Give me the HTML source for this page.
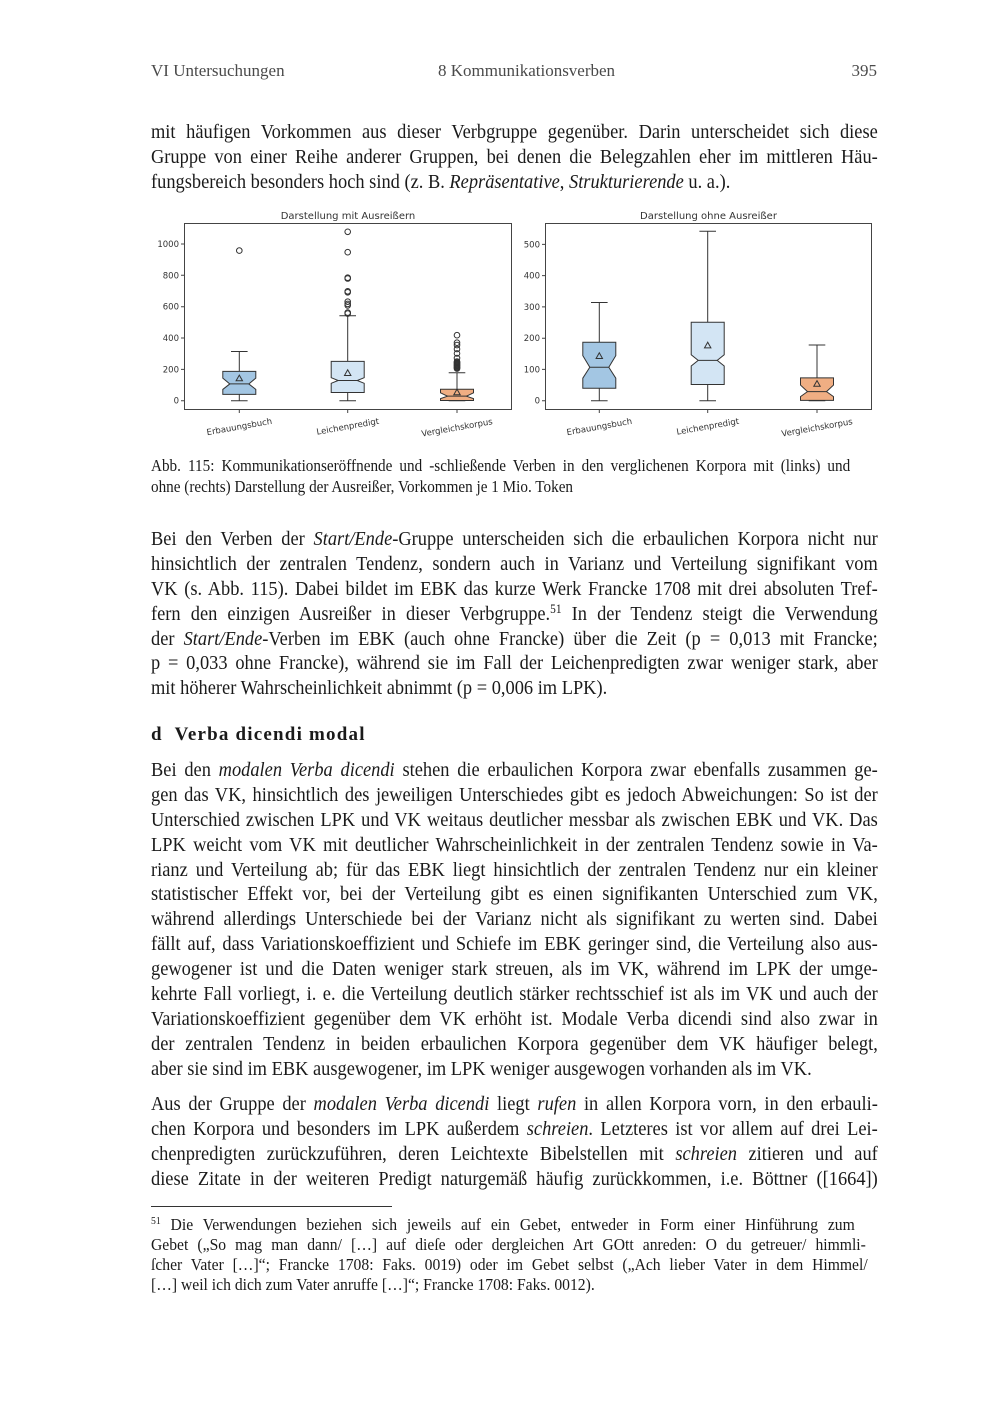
<!DOCTYPE html>
<html><head><meta charset="utf-8">
<style>
html,body{margin:0;padding:0;background:#fff;}
body{width:1000px;height:1414px;position:relative;overflow:hidden;font-family:"Liberation Serif",serif;color:#1a1a1a;}
.hd{position:absolute;top:61px;font-size:17px;line-height:20px;color:#4a4a4a;white-space:nowrap;}
.l{position:absolute;left:151px;width:790px;height:25px;font-size:20px;line-height:25px;white-space:nowrap;transform:scaleX(0.92);transform-origin:0 0;}
.j{text-align:justify;text-align-last:justify;}
.cap{position:absolute;left:151px;height:21px;font-size:16.5px;line-height:21px;white-space:nowrap;transform:scaleX(0.92);transform-origin:0 0;}
.fn{position:absolute;left:151px;height:20px;font-size:17px;line-height:20px;white-space:nowrap;transform:scaleX(0.92);transform-origin:0 0;}
sup{font-size:62%;line-height:0;vertical-align:0.55em;}
.h{position:absolute;left:151px;top:722px;font-size:19px;line-height:25px;font-weight:bold;letter-spacing:1.2px;white-space:nowrap;}
svg{position:absolute;left:0;top:0;}
svg text{font-family:"DejaVu Sans",sans-serif;fill:#333;}
</style></head><body>

<div class="hd" style="left:151px;">VI Untersuchungen</div>
<div class="hd" style="left:438px;">8 Kommunikationsverben</div>
<div class="hd" style="left:849px;width:28px;text-align:right;">395</div>

<div class="l j" style="top:120px;">mit häufigen Vorkommen aus dieser Verbgruppe gegenüber. Darin unterscheidet sich diese</div>
<div class="l j" style="top:145px;">Gruppe von einer Reihe anderer Gruppen, bei denen die Belegzahlen eher im mittleren Häu-</div>
<div class="l" style="top:170px;">fungsbereich besonders hoch sind (z. B. <i>Repräsentative</i>, <i>Strukturierende</i> u. a.).</div>

<svg width="1000" height="450" viewBox="0 0 1000 450">
<g fill="none" stroke="#444" stroke-width="1">
<rect x="184.5" y="223.5" width="327" height="186"/>
<rect x="545.5" y="223.5" width="326" height="186"/>
<path d="M181,400.7H184.5M181,369.4H184.5M181,338H184.5M181,306.7H184.5M181,275.3H184.5M181,244H184.5"/>
<path d="M542,400.7H545.5M542,369.4H545.5M542,338.2H545.5M542,306.9H545.5M542,275.6H545.5M542,244.4H545.5"/>
<path d="M239.3,409.5V413M347.7,409.5V413M457,409.5V413M599.3,409.5V413M707.7,409.5V413M817,409.5V413"/>
</g>
<g font-size="8.5" text-anchor="end">
<text x="179" y="403.7">0</text><text x="179" y="372.4">200</text><text x="179" y="341">400</text>
<text x="179" y="309.7">600</text><text x="179" y="278.3">800</text><text x="179" y="247">1000</text>
<text x="540" y="403.7">0</text><text x="540" y="372.4">100</text><text x="540" y="341.2">200</text>
<text x="540" y="309.9">300</text><text x="540" y="278.6">400</text><text x="540" y="247.4">500</text>
</g>
<g font-size="10" text-anchor="middle">
<text x="348" y="219">Darstellung mit Ausreißern</text>
<text x="708.5" y="219">Darstellung ohne Ausreißer</text>
</g>
<g font-size="8.5" text-anchor="middle">
<text transform="translate(239.3,426.5) rotate(-10)" y="3">Erbauungsbuch</text>
<text transform="translate(347.7,426.3) rotate(-10)" y="3">Leichenpredigt</text>
<text transform="translate(457,427.4) rotate(-10)" y="3">Vergleichskorpus</text>
<text transform="translate(599.3,426.5) rotate(-10)" y="3">Erbauungsbuch</text>
<text transform="translate(707.7,426.3) rotate(-10)" y="3">Leichenpredigt</text>
<text transform="translate(817,427.4) rotate(-10)" y="3">Vergleichskorpus</text>
</g>

<g stroke="#333" stroke-width="1">
<path d="M239.3,394.43V400.7M239.3,371.4V351.5M231,400.7H247.6M231,351.5H247.6" fill="none"/>
<path d="M222.8,394.43L255.8,394.43L255.8,389.42L248.8,383.93L255.8,378.14L255.8,371.4L222.8,371.4L222.8,378.14L229.8,383.93L222.8,389.42Z" fill="#a3c6e3"/>
<path d="M229.8,383.93H248.8" fill="none"/>
<path d="M239.3,375.1L236.1,380.8L242.5,380.8Z" fill="none"/>
<circle cx="239.3" cy="250.6" r="2.8" fill="none"/>

<path d="M347.7,392.55V400.7M347.7,361.37V315.77M339.4,400.7H356M339.4,315.77H356" fill="none"/>
<path d="M331.2,392.55L364.2,392.55L364.2,383.31L357.2,380.49L364.2,377.66L364.2,361.37L331.2,361.37L331.2,377.66L338.2,380.49L331.2,383.31Z" fill="#d3e5f4"/>
<path d="M338.2,380.49H357.2" fill="none"/>
<path d="M347.7,369.8L344.5,375.5L350.9,375.5Z" fill="none"/>
<g fill="none">
<circle cx="347.7" cy="231.8" r="2.8"/><circle cx="347.7" cy="252.2" r="2.8"/>
<circle cx="347.7" cy="277.7" r="2.8"/><circle cx="347.7" cy="278.5" r="2.8"/>
<circle cx="347.7" cy="291.3" r="2.8"/><circle cx="347.7" cy="292.3" r="2.8"/>
<circle cx="347.7" cy="301.7" r="2.8"/><circle cx="347.7" cy="303.9" r="2.8"/>
<circle cx="347.7" cy="305.4" r="2.8"/><circle cx="347.7" cy="312.6" r="2.8"/>
<circle cx="347.7" cy="313.6" r="2.8"/>
</g>

<path d="M457,400.54V400.7M457,389.26V372.81M448.7,400.7H465.3M448.7,372.81H465.3" fill="none"/>
<path d="M440.5,400.54L473.5,400.54L473.5,398.66L466.5,396.16L473.5,392.87L473.5,389.26L440.5,389.26L440.5,392.87L447.5,396.16L440.5,398.66Z" fill="#f0ae83"/>
<path d="M447.5,396.16H466.5" fill="none"/>
<path d="M457,389.1L453.8,394.8L460.2,394.8Z" fill="none"/>
<g fill="none">
<circle cx="457" cy="335.2" r="2.8"/><circle cx="457" cy="342.7" r="2.8"/>
<circle cx="457" cy="345.1" r="2.8"/><circle cx="457" cy="349" r="2.8"/>
<circle cx="457" cy="353.4" r="2.8"/><circle cx="457" cy="358.1" r="2.8"/>
<circle cx="457" cy="361.5" r="2.8"/><circle cx="457" cy="362.3" r="2.8"/>
<circle cx="457" cy="363.1" r="2.8"/><circle cx="457" cy="363.9" r="2.8"/>
<circle cx="457" cy="364.7" r="2.8"/><circle cx="457" cy="365.4" r="2.8"/>
<circle cx="457" cy="366.2" r="2.8"/><circle cx="457" cy="367" r="2.8"/>
<circle cx="457" cy="367.8" r="2.8"/><circle cx="457" cy="368.6" r="2.8"/>
</g>

<path d="M599.3,388.19V400.7M599.3,342.22V302.51M591,400.7H607.6M591,302.51H607.6" fill="none"/>
<path d="M582.8,388.19L615.8,388.19L615.8,378.19L608.8,367.24L615.8,355.67L615.8,342.22L582.8,342.22L582.8,355.67L589.8,367.24L582.8,378.19Z" fill="#a3c6e3"/>
<path d="M589.8,367.24H608.8" fill="none"/>
<path d="M599.3,352.8L596.1,358.5L602.5,358.5Z" fill="none"/>

<path d="M707.7,384.44V400.7M707.7,322.21V231.21M699.4,400.7H716M699.4,231.21H716" fill="none"/>
<path d="M691.2,384.44L724.2,384.44L724.2,366L717.2,360.36L724.2,354.73L724.2,322.21L691.2,322.21L691.2,354.73L698.2,360.36L691.2,366Z" fill="#d3e5f4"/>
<path d="M698.2,360.36H717.2" fill="none"/>
<path d="M707.7,342.2L704.5,347.9L710.9,347.9Z" fill="none"/>

<path d="M817,400.39V400.7M817,377.87V345.04M808.7,400.7H825.3M808.7,345.04H825.3" fill="none"/>
<path d="M800.5,400.39L833.5,400.39L833.5,396.63L826.5,391.63L833.5,385.07L833.5,377.87L800.5,377.87L800.5,385.07L807.5,391.63L800.5,396.63Z" fill="#f0ae83"/>
<path d="M807.5,391.63H826.5" fill="none"/>
<path d="M817,380.6L813.8,386.3L820.2,386.3Z" fill="none"/>
</g>
</svg>

<div class="cap j" style="top:455px;width:760px;">Abb. 115: Kommunikationseröffnende und -schließende Verben in den verglichenen Korpora mit (links) und</div>
<div class="cap" style="top:476px;">ohne (rechts) Darstellung der Ausreißer, Vorkommen je 1 Mio. Token</div>

<div class="l j" style="top:527px;">Bei den Verben der <i>Start/Ende</i>-Gruppe unterscheiden sich die erbaulichen Korpora nicht nur</div>
<div class="l j" style="top:552px;">hinsichtlich der zentralen Tendenz, sondern auch in Varianz und Verteilung signifikant vom</div>
<div class="l j" style="top:577px;">VK (s. Abb. 115). Dabei bildet im EBK das kurze Werk Francke 1708 mit drei absoluten Tref-</div>
<div class="l j" style="top:602px;">fern den einzigen Ausreißer in dieser Verbgruppe.<sup>51</sup> In der Tendenz steigt die Verwendung</div>
<div class="l j" style="top:627px;">der <i>Start/Ende</i>-Verben im EBK (auch ohne Francke) über die Zeit (p = 0,013 mit Francke;</div>
<div class="l j" style="top:651px;">p = 0,033 ohne Francke), während sie im Fall der Leichenpredigten zwar weniger stark, aber</div>
<div class="l" style="top:676px;">mit höherer Wahrscheinlichkeit abnimmt (p = 0,006 im LPK).</div>

<div class="h">d&nbsp;&nbsp;Verba dicendi modal</div>

<div class="l j" style="top:758px;">Bei den <i>modalen Verba dicendi</i> stehen die erbaulichen Korpora zwar ebenfalls zusammen ge-</div>
<div class="l j" style="top:783px;">gen das VK, hinsichtlich des jeweiligen Unterschiedes gibt es jedoch Abweichungen: So ist der</div>
<div class="l j" style="top:808px;">Unterschied zwischen LPK und VK weitaus deutlicher messbar als zwischen EBK und VK. Das</div>
<div class="l j" style="top:833px;">LPK weicht vom VK mit deutlicher Wahrscheinlichkeit in der zentralen Tendenz sowie in Va-</div>
<div class="l j" style="top:858px;">rianz und Verteilung ab; für das EBK liegt hinsichtlich der zentralen Tendenz nur ein kleiner</div>
<div class="l j" style="top:882px;">statistischer Effekt vor, bei der Verteilung gibt es einen signifikanten Unterschied zum VK,</div>
<div class="l j" style="top:907px;">während allerdings Unterschiede bei der Varianz nicht als signifikant zu werten sind. Dabei</div>
<div class="l j" style="top:932px;">fällt auf, dass Variationskoeffizient und Schiefe im EBK geringer sind, die Verteilung also aus-</div>
<div class="l j" style="top:957px;">gewogener ist und die Daten weniger stark streuen, als im VK, während im LPK der umge-</div>
<div class="l j" style="top:982px;">kehrte Fall vorliegt, i. e. die Verteilung deutlich stärker rechtsschief ist als im VK und auch der</div>
<div class="l j" style="top:1007px;">Variationskoeffizient gegenüber dem VK erhöht ist. Modale Verba dicendi sind also zwar in</div>
<div class="l j" style="top:1032px;">der zentralen Tendenz in beiden erbaulichen Korpora gegenüber dem VK häufiger belegt,</div>
<div class="l" style="top:1057px;">aber sie sind im EBK ausgewogener, im LPK weniger ausgewogen vorhanden als im VK.</div>

<div class="l j" style="top:1092px;">Aus der Gruppe der <i>modalen Verba dicendi</i> liegt <i>rufen</i> in allen Korpora vorn, in den erbauli-</div>
<div class="l j" style="top:1117px;">chen Korpora und besonders im LPK außerdem <i>schreien</i>. Letzteres ist vor allem auf drei Lei-</div>
<div class="l j" style="top:1142px;">chenpredigten zurückzuführen, deren Leichtexte Bibelstellen mit <i>schreien</i> zitieren und auf</div>
<div class="l j" style="top:1167px;">diese Zitate in der weiteren Predigt naturgemäß häufig zurückkommen, i.e. Böttner ([1664])</div>

<div style="position:absolute;left:151px;top:1206px;width:241px;height:1px;background:#333;"></div>

<div class="fn j" style="top:1215px;width:765px;"><sup>51</sup> Die Verwendungen beziehen sich jeweils auf ein Gebet, entweder in Form einer Hinführung zum</div>
<div class="fn j" style="top:1235px;width:777px;">Gebet („So mag man dann/ […] auf dieſe oder dergleichen Art GOtt anreden: O du getreuer/ himmli-</div>
<div class="fn j" style="top:1255px;width:779px;">ſcher Vater […]“; Francke 1708: Faks. 0019) oder im Gebet selbst („Ach lieber Vater in dem Himmel/</div>
<div class="fn" style="top:1275px;">[…] weil ich dich zum Vater anruffe […]“; Francke 1708: Faks. 0012).</div>

</body></html>
